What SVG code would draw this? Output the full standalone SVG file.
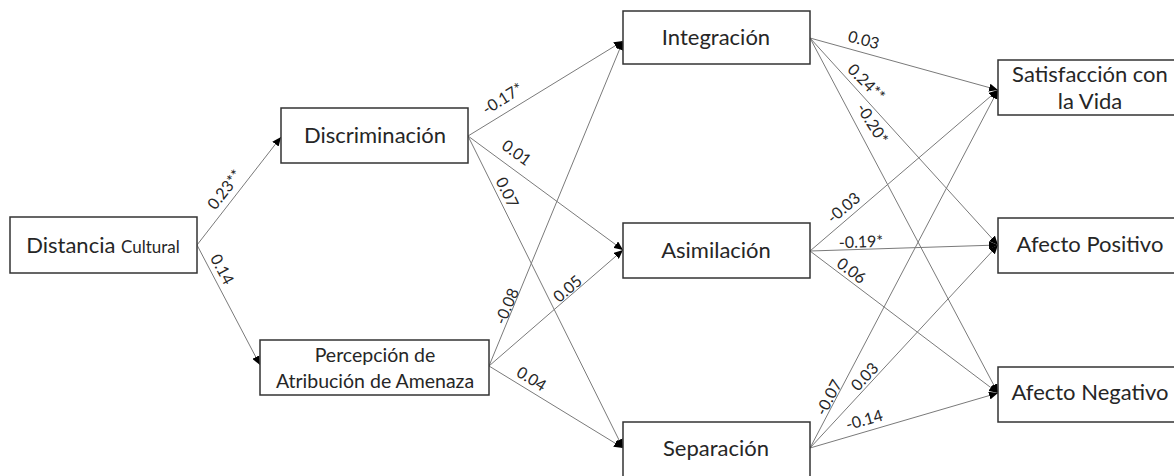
<svg xmlns="http://www.w3.org/2000/svg" width="1174" height="476" viewBox="0 0 1174 476">
<style>
.box{fill:#fff;stroke:#333;stroke-width:1.5}
.t{font-family:Lato,"Open Sans",sans-serif;font-size:22px;fill:#262626;text-anchor:middle}
.s{font-size:19.5px}
.e{stroke:#7a7a7a;stroke-width:1;fill:none;marker-end:url(#ah)}
.l{font-family:Lato,"Open Sans",sans-serif;font-size:16px;fill:#262626;text-anchor:middle;dominant-baseline:central}
</style>
<defs>
<marker id="ah" markerUnits="userSpaceOnUse" markerWidth="10" markerHeight="8" refX="9" refY="4" orient="auto">
<path d="M0,0 L9,4 L0,8 Z" fill="#000"/>
</marker>
</defs>
<rect width="1174" height="476" fill="#fff"/>
<g id="connectors">
<line class="e" x1="197" y1="245" x2="281" y2="137"/>
<line class="e" x1="197" y1="245" x2="260" y2="365"/>
<line class="e" x1="468" y1="136" x2="623" y2="41"/>
<line class="e" x1="468" y1="136" x2="623" y2="250"/>
<line class="e" x1="468" y1="136" x2="623" y2="448"/>
<line class="e" x1="489" y1="366" x2="623" y2="41"/>
<line class="e" x1="489" y1="366" x2="623" y2="250"/>
<line class="e" x1="489" y1="366" x2="623" y2="448"/>
<line class="e" x1="810" y1="38" x2="998" y2="90"/>
<line class="e" x1="810" y1="38" x2="998" y2="245"/>
<line class="e" x1="810" y1="38" x2="998" y2="393"/>
<line class="e" x1="810" y1="251" x2="998" y2="90"/>
<line class="e" x1="810" y1="251" x2="998" y2="245"/>
<line class="e" x1="810" y1="251" x2="998" y2="393"/>
<line class="e" x1="810" y1="448" x2="998" y2="90"/>
<line class="e" x1="810" y1="448" x2="998" y2="245"/>
<line class="e" x1="810" y1="448" x2="998" y2="393"/>
<text class="l" transform="translate(224,189) rotate(-52)">0.23**</text>
<text class="l" transform="translate(223,269) rotate(62)">0.14</text>
<text class="l" transform="translate(502,98) rotate(-32)">-0.17*</text>
<text class="l" transform="translate(517,152) rotate(36)">0.01</text>
<text class="l" transform="translate(508,192) rotate(64)">0.07</text>
<text class="l" transform="translate(506,306) rotate(-67)">-0.08</text>
<text class="l" transform="translate(567,288) rotate(-41)">0.05</text>
<text class="l" transform="translate(532,378) rotate(32)">0.04</text>
<text class="l" transform="translate(864,39) rotate(15)">0.03</text>
<text class="l" transform="translate(867,82) rotate(45)">0.24**</text>
<text class="l" transform="translate(873,123) rotate(58)">-0.20*</text>
<text class="l" transform="translate(843,207) rotate(-41)">-0.03</text>
<text class="l" transform="translate(861,241) rotate(-2)">-0.19*</text>
<text class="l" transform="translate(852,270) rotate(37)">0.06</text>
<text class="l" transform="translate(828,397) rotate(-62)">-0.07</text>
<text class="l" transform="translate(864,376) rotate(-47)">0.03</text>
<text class="l" transform="translate(864,419) rotate(-16)">-0.14</text>
</g>
<g id="distancia">
<rect class="box" x="10" y="217" width="187" height="56"/>
<text class="t" x="103" y="253">Distancia <tspan font-size="17">Cultural</tspan></text>
</g>
<g id="discriminacion">
<rect class="box" x="281" y="108" width="187" height="55"/>
<text class="t" x="375" y="143">Discriminación</text>
</g>
<g id="percepcion">
<rect class="box" x="260" y="340" width="229" height="55"/>
<text class="t s" x="375" y="362">Percepción de</text>
<text class="t s" x="375" y="388">Atribución de Amenaza</text>
</g>
<g id="integracion">
<rect class="box" x="623" y="11" width="187" height="53"/>
<text class="t" x="716" y="45">Integración</text>
</g>
<g id="asimilacion">
<rect class="box" x="623" y="223" width="187" height="55"/>
<text class="t" x="716" y="258">Asimilación</text>
</g>
<g id="separacion">
<rect class="box" x="623" y="422" width="187" height="70"/>
<text class="t" x="716" y="456">Separación</text>
</g>
<g id="satisfaccion">
<rect class="box" x="998" y="60" width="190" height="55"/>
<text class="t" x="1090" y="82">Satisfacción con</text>
<text class="t" x="1090" y="109">la Vida</text>
</g>
<g id="afecto-positivo">
<rect class="box" x="998" y="218" width="190" height="55"/>
<text class="t" x="1090" y="252">Afecto Positivo</text>
</g>
<g id="afecto-negativo">
<rect class="box" x="998" y="367" width="190" height="55"/>
<text class="t" x="1090" y="400">Afecto Negativo</text>
</g>
</svg>
